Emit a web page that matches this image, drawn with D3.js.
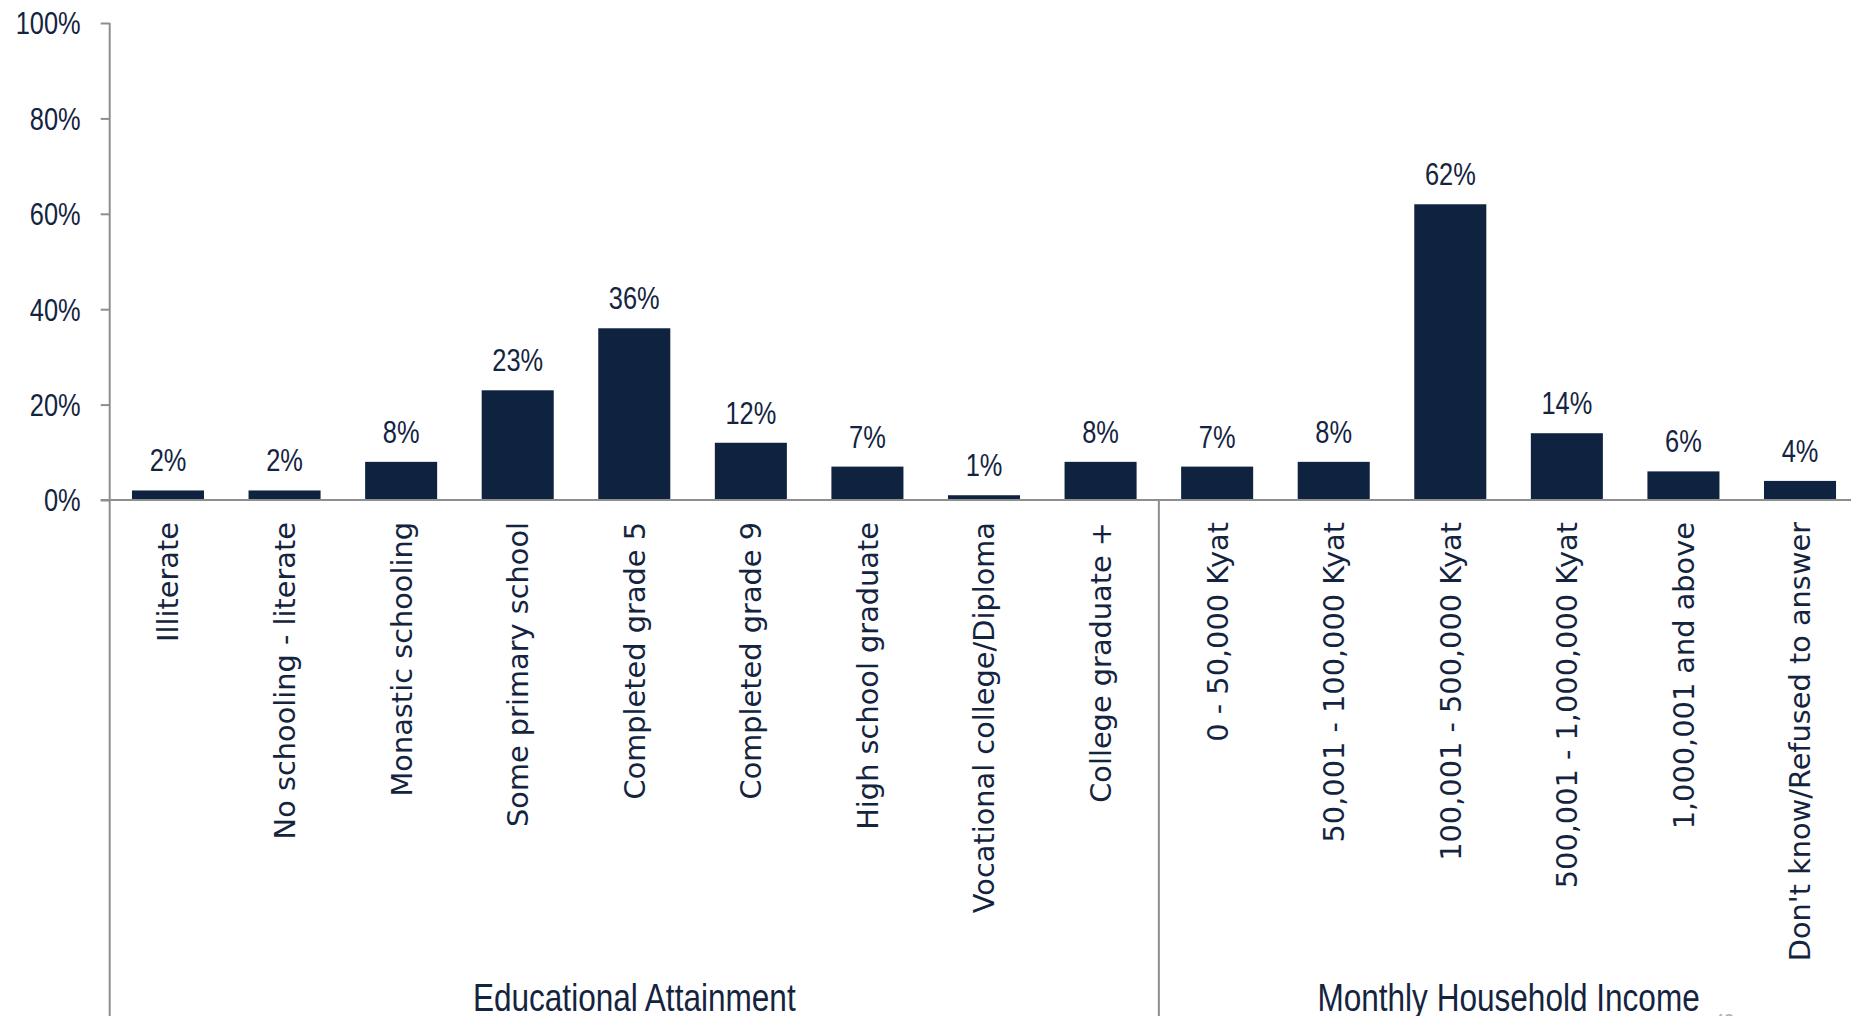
<!DOCTYPE html>
<html>
<head>
<meta charset="utf-8">
<script src="https://cdn.jsdelivr.net/npm/d3@7"></script>
<style>
  html, body { margin: 0; padding: 0; background: #ffffff; overflow: hidden; }
  svg { display: block; }
</style>
</head>
<body>
<svg id="chart" width="1851" height="1016"></svg>
<script>
// Survey profile: share of respondents by education and by household income
const categories = [
  "Illiterate",
  "No schooling - literate",
  "Monastic schooling",
  "Some primary school",
  "Completed grade 5",
  "Completed grade 9",
  "High school graduate",
  "Vocational college/Diploma",
  "College graduate +",
  "0 - 50,000 Kyat",
  "50,001 - 100,000 Kyat",
  "100,001 - 500,000 Kyat",
  "500,001 - 1,000,000 Kyat",
  "1,000,001 and above",
  "Don't know/Refused to answer"
];
const values = [2, 2, 8, 23, 36, 12, 7, 1, 8, 7, 8, 62, 14, 6, 4];
const groups = ["Educational Attainment", "Monthly Household Income"];
const groupSizes = [9, 6];
const yTicks = [0, 20, 40, 60, 80, 100];

const navy = "#0f2340";
const textColor = "#14243f";
const axisColor = "#8e8e8e";
const sans = "'Liberation Sans', Arial, sans-serif";
const condense = 0.82; // horizontal squeeze for the narrow label face

const svg = d3.select("#chart");
const W = 1851, H = 1016;

const x = d3.scaleBand()
  .domain(categories)
  .range([109.7, 1858.3])
  .paddingInner(0.382)
  .paddingOuter(0.191);

const y = d3.scaleLinear()
  .domain([0, 100])
  .range([500, 23]);

// narrow text placed at (px, py)
function narrowText(sel, size) {
  return sel.append("text")
    .attr("fill", textColor)
    .style("font-family", sans)
    .style("font-size", size + "px");
}

// Y axis with percent ticks
const yAxis = d3.axisLeft(y)
  .tickValues(yTicks)
  .tickFormat("")
  .tickSize(9);

const gy = svg.append("g")
  .attr("transform", `translate(${x.range()[0]},0)`)
  .call(yAxis);
gy.select(".domain").remove();
gy.selectAll(".tick line").attr("stroke", axisColor).attr("stroke-width", 2);
gy.selectAll(".tick").each(function (d) {
  narrowText(d3.select(this), 31)
    .attr("transform", `translate(-29,0) scale(${condense},1)`)
    .attr("text-anchor", "end")
    .attr("dy", "0.35em")
    .text(d + "%");
});

// Vertical axis line running down through the category area
svg.append("line")
  .attr("x1", x.range()[0]).attr("x2", x.range()[0])
  .attr("y1", y(100)).attr("y2", H)
  .attr("stroke", axisColor).attr("stroke-width", 2);

// Bars
svg.append("g").selectAll("rect")
  .data(categories)
  .join("rect")
  .attr("x", d => x(d))
  .attr("y", (d, i) => y(values[i]))
  .attr("width", x.bandwidth())
  .attr("height", (d, i) => y(0) - y(values[i]))
  .attr("fill", navy);

// Baseline
svg.append("line")
  .attr("x1", x.range()[0] - 9).attr("x2", W)
  .attr("y1", y(0)).attr("y2", y(0))
  .attr("stroke", axisColor).attr("stroke-width", 2);

// Value labels above bars
const valueLayer = svg.append("g");
categories.forEach((c, i) => {
  narrowText(valueLayer, 31)
    .attr("transform", `translate(${x(c) + x.bandwidth() / 2},${y(values[i]) - 19}) scale(${condense},1)`)
    .attr("text-anchor", "middle")
    .text(values[i] + "%");
});

// Rotated category labels
svg.append("g").selectAll("text")
  .data(categories)
  .join("text")
  .attr("transform", d => `translate(${x(d) + x.bandwidth() / 2},522) rotate(-90)`)
  .attr("text-anchor", "end")
  .attr("dy", "0.36em")
  .attr("fill", textColor)
  .style("font-family", "'DejaVu Sans', Verdana, sans-serif")
  .style("font-size", "28.8px")
  .text(d => d);

// Group separators and group labels
let start = 0;
groups.forEach((g, gi) => {
  const first = categories[start];
  const last = categories[start + groupSizes[gi] - 1];
  const x0 = x(first) - x.step() * x.paddingInner() / 2;
  const x1 = x(last) + x.bandwidth() + x.step() * x.paddingInner() / 2;
  svg.append("line")
    .attr("x1", x1).attr("x2", x1)
    .attr("y1", y(0)).attr("y2", H)
    .attr("stroke", axisColor).attr("stroke-width", 2);
  narrowText(svg, 38.5)
    .attr("transform", `translate(${(x0 + x1) / 2},1011) scale(${condense},1)`)
    .attr("text-anchor", "middle")
    .text(g);
  start += groupSizes[gi];
});

// Slide page number, partly below the fold
svg.append("text")
  .attr("transform", `translate(1724,1029) scale(${condense},1)`)
  .attr("text-anchor", "middle")
  .attr("fill", "#b0b0b0")
  .style("font-family", sans)
  .style("font-size", "22px")
  .text("48");
</script>
</body>
</html>
